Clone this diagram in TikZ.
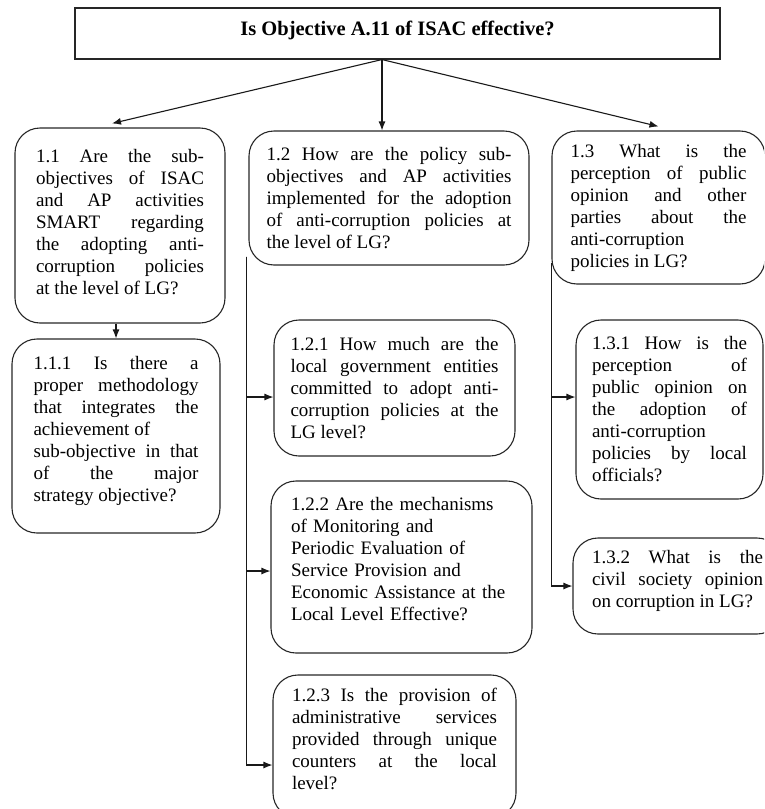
\documentclass[tikz,border=0pt]{standalone}
\usepackage{fontspec}
\setmainfont{Liberation Serif}
\usetikzlibrary{arrows.meta}
\hyphenpenalty=10000
\exhyphenpenalty=10000
\tolerance=10000
\hbadness=10000

\begin{document}
\begin{tikzpicture}[x=1pt,y=1pt]
\tikzstyle{every node}+=[inner ysep=0pt, font=\fontsize{19}{22}\selectfont]
\tikzstyle{qbox}=[draw=black!85, line width=1.1pt, rounded corners=25pt, align=justify]
\tikzstyle{link}=[draw=black!90, line width=1.1pt, -{Latex[length=9pt,width=7pt]}]
\useasboundingbox (0,0) rectangle (764,-809);
\clip (0,0) rectangle (764,-809);
\node [draw=black!85, line width=1.1pt, minimum width=645pt, minimum height=51pt, font=\fontsize{20.5}{22}\selectfont\bfseries] (top) at (397.5,-33.5) {Is Objective A.11 of ISAC effective?\rule[-11pt]{0pt}{0pt}};
\node [qbox, text width=168pt, inner xsep=21pt, minimum height=195pt] (b11) at (120,-225.5) {1.1 Are the sub-\linebreak objectives of ISAC\linebreak and AP activities\linebreak SMART regarding\linebreak the adopting anti-\linebreak corruption policies\linebreak at the level of LG?\rule[-7pt]{0pt}{0pt}};
\node [qbox, text width=165pt, inner xsep=21.5pt, minimum height=194pt] (b111) at (116,-436) {1.1.1 Is there a\linebreak proper methodology\linebreak that integrates the\linebreak achievement of\newline sub-objective in that\linebreak of the major\linebreak strategy objective?\rule[-14pt]{0pt}{0pt}};
\node [qbox, text width=245pt, inner xsep=17.5pt, minimum height=134pt] (b12) at (389,-198) {1.2 How are the policy sub-\linebreak objectives and AP activities\linebreak implemented for the adoption\linebreak of anti-corruption policies at\linebreak the level of LG?};
\node [qbox, text width=176pt, inner xsep=18.5pt, minimum height=153pt] (b13) at (658.5,-207.5) {1.3 What is the\linebreak perception of public\linebreak opinion and other\linebreak parties about the\linebreak anti-corruption\newline policies in LG?};
\node [qbox, text width=208pt, inner xsep=16.5pt, minimum height=136pt] (b121) at (394.5,-388) {1.2.1 How much are the\linebreak local government entities\linebreak committed to adopt anti-\linebreak corruption policies at the\linebreak LG level?};
\node [qbox, align=left, text width=221pt, inner xsep=20pt, minimum height=172pt] (b122) at (401.5,-567) {1.2.2 Are the mechanisms\\ of Monitoring and\\ Periodic Evaluation of\\ Service Provision and\\ Economic Assistance at the\\ Local Level Effective?\rule[-16pt]{0pt}{0pt}};
\node [qbox, text width=205pt, inner xsep=19pt, minimum height=143pt] (b123) at (394.5,-746.5) {1.2.3 Is the provision of\linebreak administrative services\linebreak provided through unique\linebreak counters at the local\linebreak level?\rule[-15pt]{0pt}{0pt}};
\node [qbox, text width=155pt, inner xsep=16pt, minimum height=179pt] (b131) at (669.5,-409.5) {1.3.1 How is the\linebreak perception of\linebreak public opinion on\linebreak the adoption of\linebreak anti-corruption\newline policies by local\linebreak officials?};
\node [qbox, text width=171pt, inner xsep=19pt, minimum height=96pt] (b132) at (677.5,-586) {1.3.2 What is the\linebreak civil society opinion\linebreak on corruption in LG?\rule[-14pt]{0pt}{0pt}};
\coordinate (fork) at ([xshift=-15.5pt]top.south);
\draw [link] (fork) -- ([xshift=-8pt,yshift=4pt]b11.north);
\draw [link] (fork) -- (fork |- b12.north);
\draw [link] (fork) -- ([yshift=4pt]b13.north);
\draw [link] (b111.north |- b11.south) -- (b111.north);
\draw [link] ([xshift=-2pt,yshift=9pt]b12.south west) |- ([yshift=-9pt]b121.west);
\draw [link] ([xshift=-2pt,yshift=9pt]b12.south west) |- ([yshift=-4pt]b122.west);
\draw [link] ([xshift=-2pt,yshift=9pt]b12.south west) |- ([yshift=-18.5pt]b123.west);
\draw [link] ([yshift=22pt]b13.south west) |- ([yshift=12.5pt]b131.west);
\draw [link] ([yshift=22pt]b13.south west) |- (b132.west);
\end{tikzpicture}
\end{document}
